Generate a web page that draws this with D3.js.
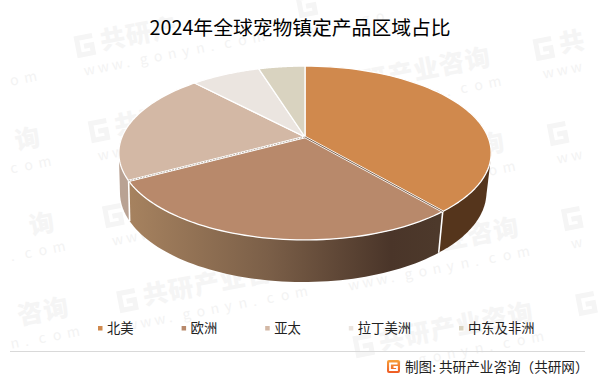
<!DOCTYPE html>
<html lang="zh">
<head>
<meta charset="utf-8">
<script src="https://cdn.jsdelivr.net/npm/d3@7"></script>
<style>
html,body{margin:0;padding:0;background:#fff;}
svg{display:block;}
text{font-family:"Noto Sans CJK SC","Noto Sans",sans-serif;}
</style>
</head>
<body>
<div id="chart"></div>
<script>
const chartTitle = "2024年全球宠物镇定产品区域占比";
const categories = ["北美", "欧洲", "亚太", "拉丁美洲", "中东及非洲"];
const shares = [38.8, 28.3, 20.9, 7.2, 4.8];
const topColors = ["#D0894D", "#B8896B", "#D3B8A5", "#EBE5E0", "#D9D3C0"];
const wallColors = ["#55351C", "url(#wallEurope)", "#B9A293"];
const sourceText = "制图: 共研产业咨询（共研网）";
const stampTitle = "共研产业咨询";
const stampUrl = "www.gonyn.com";

const W = 601, H = 377;
const svg = d3.select("#chart").append("svg").attr("width", W).attr("height", H).attr("viewBox", [0,0,W,H]);
const defs = svg.append("defs");

const wg = defs.append("linearGradient").attr("id","wallEurope").attr("gradientUnits","userSpaceOnUse")
  .attr("x1",130).attr("x2",437).attr("y1",0).attr("y2",0);
[[0,"#A6825F"],[0.45,"#7B5F48"],[0.85,"#4A3529"],[1,"#4D392B"]].forEach(s=>wg.append("stop").attr("offset",s[0]).attr("stop-color",s[1]));
const lg = defs.append("linearGradient").attr("id","logoFill").attr("x1",0).attr("x2",0).attr("y1",0).attr("y2",1);
[[0,"#F7A13A"],[1,"#EE5A24"]].forEach(s=>lg.append("stop").attr("offset",s[0]).attr("stop-color",s[1]));

/* background stamps: glyph by glyph, only those lying wholly inside the page */
const columns = [[-153,87,4],[75,47,4],[297,7,5],[534,50,4]];
const stampLayer = svg.append("g");
const tilt = -11*Math.PI/180;
const glyph = (g,x,y,ch,size,weight,fill,ox,oy)=>{
  const sx = ox + x*Math.cos(tilt) - y*Math.sin(tilt);
  const sy = oy + x*Math.sin(tilt) + y*Math.cos(tilt);
  if (sx - size*0.3 < 1 || sx + size*1.2 > W-1 || sy - size*1.5 < 1 || sy + size*0.4 > H-1) return;
  g.append("text").attr("x",x).attr("y",y).attr("font-size",size).attr("font-weight",weight).attr("fill",fill).text(ch);
};
columns.forEach(([x0,y0,n])=>{
  d3.range(n).forEach(i=>{
    const ox = x0+i*14.2, oy = y0+i*85;
    const g = stampLayer.append("g").attr("transform",`translate(${ox},${oy}) rotate(-11)`);
    g.append("path").attr("d","M19 -8 H3 V9 H17 V1 H9").attr("fill","none").attr("stroke","#F5F5F5").attr("stroke-width",5);
    Array.from(stampTitle).forEach((ch,k)=>glyph(g,26+k*26.2,8,ch,25,900,"#F5F5F5",ox,oy));
    Array.from(stampUrl).forEach((ch,k)=>glyph(g,4+k*14.3,30,ch,14,400,"#F3F3F3",ox,oy));
  });
});

/* perspective disc */
const cx = 305, cy = 137, rx = 183, ry = 84, p = 0.184;
const topRim = (a)=>{
  const u = Math.sin(a), v = -Math.cos(a), k = 1/(1-p*v);
  return [cx + rx*u*k, cy + ry*v*k];
};
const lowRim = (a)=>{
  const u = Math.sin(a), v = -Math.cos(a), k = 1/(1-p*v);
  return [303.2 + 0.984*rx*u*k, 176 + 1.03*ry*v*k];
};
const arcsData = d3.pie().sort(null)(shares);
const line = d3.line();
const deg = Math.PI/180;
const sample = (a,b,f)=> d3.range(0,61).map(i=>f(a+(b-a)*i/60));

const walls = svg.append("g");
const tops = svg.append("g");
/* side walls that face the viewer: hull gives the straight silhouette at the disc's edges */
const wallPath = (a,b)=> {
  const hull = d3.polygonHull(sample(a,b,topRim).concat(sample(b,a,lowRim)));
  return line(hull)+"Z";
};
walls.append("path").attr("d",wallPath(arcsData[2].startAngle,282*deg)).attr("fill",wallColors[2]);
walls.append("path").attr("d",wallPath(78*deg,arcsData[0].endAngle)).attr("fill",wallColors[0]);
walls.append("path").attr("d",line(sample(arcsData[1].startAngle,arcsData[1].endAngle,topRim).concat(sample(arcsData[1].endAngle,arcsData[1].startAngle,lowRim)))+"Z").attr("fill",wallColors[1]);
/* white edges between front wall segments */
[arcsData[0].endAngle, arcsData[1].endAngle].forEach(a=>{
  walls.append("path").attr("d",line([topRim(a),lowRim(a)])).attr("stroke","#fff").attr("stroke-width",1.6).attr("fill","none");
});
arcsData.forEach((d,i)=>{
  const pts = [[cx,cy]].concat(sample(d.startAngle,d.endAngle,topRim));
  tops.append("path").attr("d",line(pts)+"Z").attr("fill",topColors[i])
    .attr("stroke","#fff").attr("stroke-width",1.3).attr("stroke-linejoin","round");
});
/* seams between separated slices */
[[arcsData[0].endAngle,"#5A3A22",0.8,null],[arcsData[1].endAngle,"#A99A8C",0.8,"2 1"]].forEach(([a,c,w,dash])=>{
  tops.append("path").attr("d",line([[cx,cy],topRim(a)])).attr("stroke","#fff").attr("stroke-width",2.4).attr("fill","none");
  tops.append("path").attr("d",line([[cx,cy],topRim(a)])).attr("stroke",c).attr("stroke-width",w).attr("stroke-dasharray",dash).attr("fill","none");
});

/* title */
svg.append("text").attr("x",300).attr("y",35).attr("text-anchor","middle").attr("font-size",19.8).attr("fill","#000").text(chartTitle);

/* legend */
const lf = 13.3;
let lx = 98;
categories.forEach((c,i)=>{
  svg.append("rect").attr("x",lx).attr("y",326).attr("width",4.5).attr("height",4.5).attr("fill",topColors[i]);
  svg.append("text").attr("x",lx+9).attr("y",333).attr("font-size",lf).attr("fill","#222").text(c);
  lx += 9 + c.length*lf + 48;
});

/* footer */
svg.append("line").attr("x1",10).attr("x2",585).attr("y1",351.5).attr("y2",351.5).attr("stroke","#D9D9D9");
const logo = svg.append("g").attr("transform","translate(387,360)");
logo.append("rect").attr("width",13).attr("height",13).attr("rx",2).attr("fill","url(#logoFill)");
logo.append("path").attr("d","M10.5 3.5 H3 V10 H10 V7 H6.5").attr("fill","none").attr("stroke","#fff").attr("stroke-width",1.8);
svg.append("text").attr("x",405).attr("y",372).attr("font-size",13.6).attr("fill","#222").text(sourceText);
</script>
</body>
</html>
